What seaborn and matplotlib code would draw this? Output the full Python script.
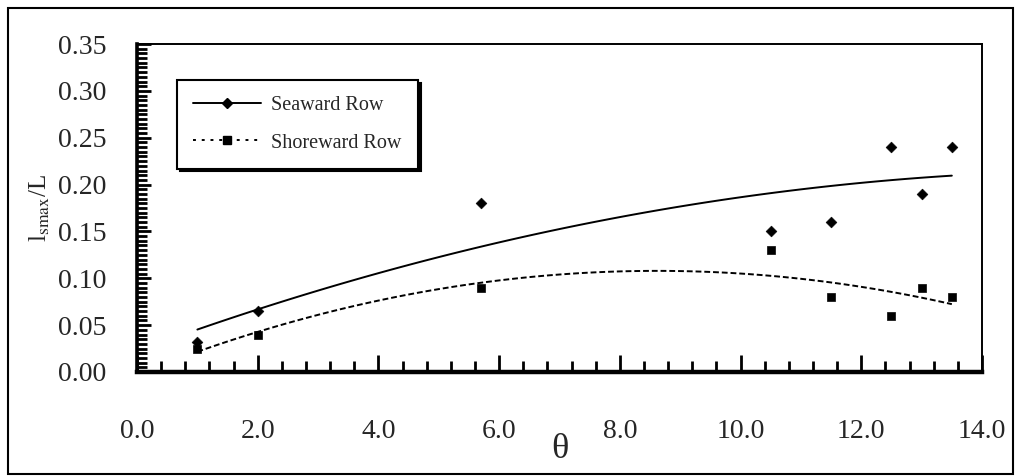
import matplotlib
matplotlib.use("Agg")
import matplotlib.pyplot as plt
import seaborn as sns
import numpy as np
from matplotlib.ticker import MultipleLocator, FormatStrFormatter
from matplotlib.lines import Line2D
from matplotlib.patches import Rectangle

theta = [1.0, 2.0, 5.7, 10.5, 11.5, 12.5, 13.0, 13.5]
seaward = [0.032, 0.065, 0.18, 0.15, 0.16, 0.24, 0.19, 0.24]
shoreward = [0.025, 0.04, 0.09, 0.13, 0.08, 0.06, 0.09, 0.08]

sns.set_style("ticks")
plt.rcParams['font.family'] = ['Liberation Serif', 'DejaVu Serif']
plt.rcParams['mathtext.fontset'] = 'stix'

fig = plt.figure(figsize=(10.15, 4.76), dpi=100)
ax = fig.add_axes([0.135, 0.2185, 0.8325, 0.689])

# trend lines (2nd order polynomial, like the spreadsheet trendline)
sns.regplot(x=theta, y=seaward, order=2, ci=None, scatter=False, truncate=True,
            line_kws=dict(color='black', lw=1.4, ls='-'), ax=ax)
sns.regplot(x=theta, y=shoreward, order=2, ci=None, scatter=False, truncate=True,
            line_kws=dict(color='black', lw=1.4, ls=(0, (3, 1.5))), ax=ax)

sns.scatterplot(x=theta, y=seaward, marker='D', s=30, color='black', edgecolor='black', ax=ax, zorder=3)
sns.scatterplot(x=theta, y=shoreward, marker='s', s=36, color='black', edgecolor='black', ax=ax, zorder=3)

ax.set_xlim(0, 14)
ax.set_ylim(0, 0.35)
ax.xaxis.set_major_locator(MultipleLocator(2.0))
ax.xaxis.set_minor_locator(MultipleLocator(0.4))
ax.yaxis.set_major_locator(MultipleLocator(0.05))
ax.yaxis.set_minor_locator(MultipleLocator(0.005))
ax.xaxis.set_major_formatter(FormatStrFormatter('%.1f'))
ax.yaxis.set_major_formatter(FormatStrFormatter('%.2f'))

ax.tick_params(axis='both', which='both', direction='in', color='black', top=False, right=False)
ax.tick_params(axis='y', which='major', length=10, width=2, pad=22, labelsize=20)
ax.tick_params(axis='y', which='minor', length=7, width=2)
ax.tick_params(axis='x', which='major', length=12, width=2, pad=34, labelsize=20)
ax.tick_params(axis='x', which='minor', length=8, width=2)

for side, w in [('left', 2.6), ('bottom', 3.2), ('top', 1.4), ('right', 1.4)]:
    ax.spines[side].set_visible(True)
    ax.spines[side].set_linewidth(w)
    ax.spines[side].set_color('black')

ax.set_xlabel('θ', fontsize=26, labelpad=-8)
ax.set_ylabel(r'l$_{\mathrm{smax}}$/L', fontsize=18, labelpad=4)

handles = [
    Line2D([], [], color='black', lw=1.4, ls='-', marker='D', markersize=5),
    Line2D([], [], color='black', lw=1.4, ls=(0, (1.5, 3)), marker='s', markersize=6),
]
leg = ax.legend(handles, ['Seaward Row', 'Shoreward Row'], loc='upper left',
                bbox_to_anchor=(0.047, 0.89), borderaxespad=0, fontsize=14.5,
                frameon=True, fancybox=False, edgecolor='black', framealpha=1,
                handlelength=3.4, handletextpad=0.5, borderpad=0.8, labelspacing=0.9,
                shadow={'facecolor': 'black', 'edgecolor': 'black', 'alpha': 1})
leg.get_frame().set_linewidth(1.5)

# outer frame around the whole picture
fig.patches.append(Rectangle((0.008, 0.004), 0.99, 0.979, transform=fig.transFigure,
                             fill=False, edgecolor='black', lw=1.5))

fig.savefig('out.png', dpi=100)
